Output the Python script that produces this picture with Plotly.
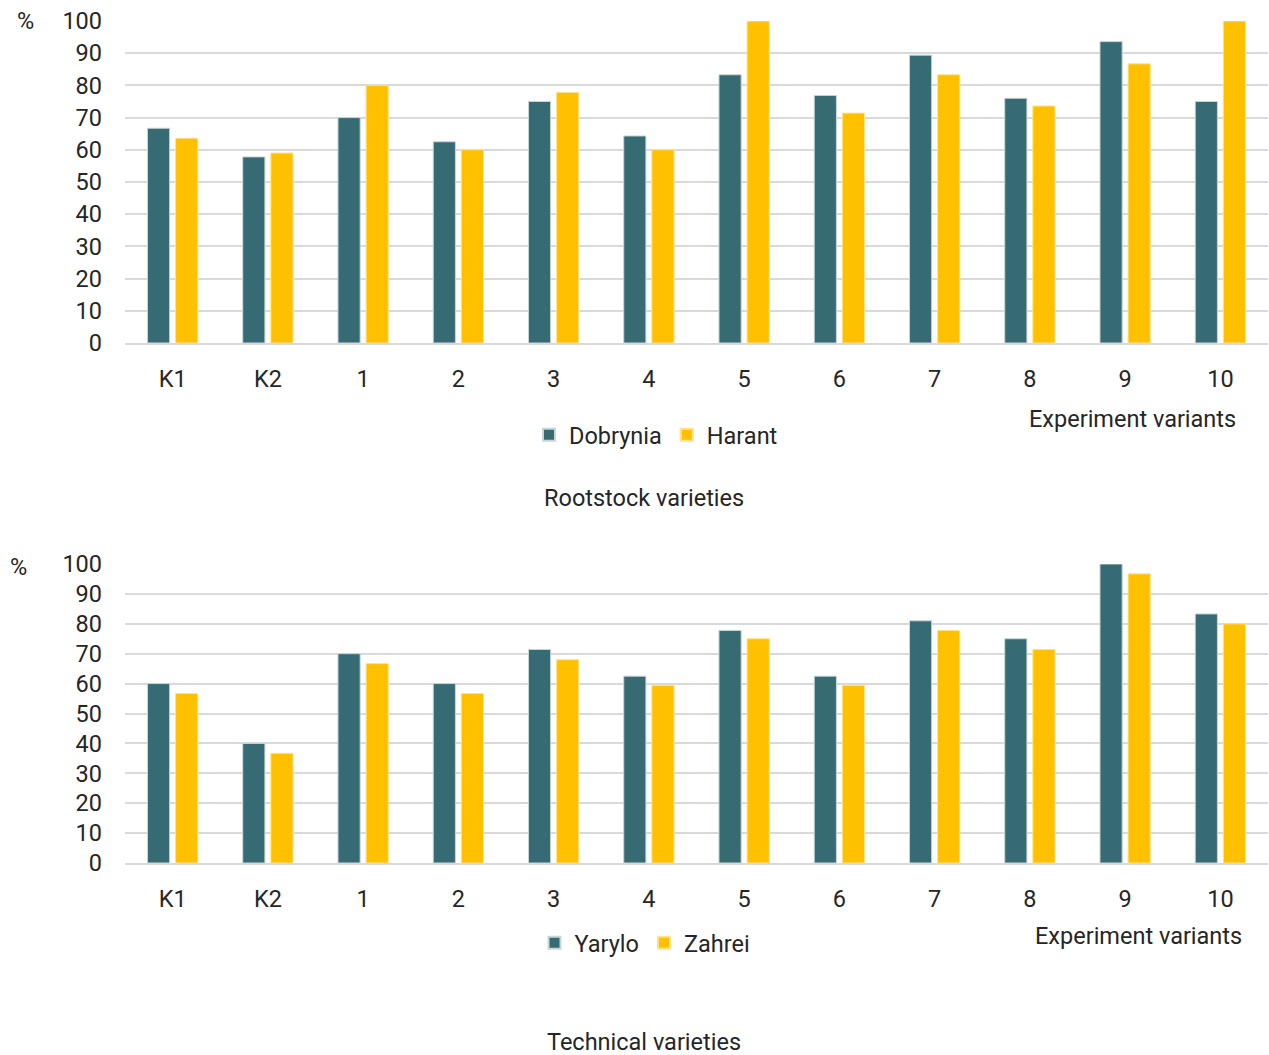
import plotly.graph_objects as go

categories = ["K1", "K2", "1", "2", "3", "4", "5", "6", "7", "8", "9", "10"]
dobrynia = [66.7, 57.8, 70.0, 62.5, 75.0, 64.3, 83.3, 76.9, 89.4, 76.0, 93.6, 75.0]
harant = [63.6, 59.0, 80.0, 60.0, 77.8, 60.0, 100.0, 71.4, 83.3, 73.6, 86.7, 100.0]
yarylo = [60.0, 40.0, 70.0, 60.0, 71.4, 62.5, 77.8, 62.5, 81.0, 75.0, 100.0, 83.3]
zahrei = [56.7, 36.7, 66.7, 56.7, 68.0, 59.4, 75.0, 59.4, 77.8, 71.4, 96.7, 80.0]
y_ticks = [0, 10, 20, 30, 40, 50, 60, 70, 80, 90, 100]

TEAL = "#376B74"
GOLD = "#FFC000"
FONT = "Roboto, Noto Sans, sans-serif"
TXT = "#262626"
FS = 23.5

W, H = 1269, 1055

fig = go.Figure()
fig.add_trace(go.Bar(x=categories, y=dobrynia, name="Dobrynia", marker=dict(color=TEAL, line=dict(color="#C9D6D8", width=1)),
                     xaxis="x", yaxis="y", legend="legend"))
fig.add_trace(go.Bar(x=categories, y=harant, name="Harant", marker=dict(color=GOLD, line=dict(color="#FFE28A", width=1)),
                     xaxis="x", yaxis="y", legend="legend"))
fig.add_trace(go.Bar(x=categories, y=yarylo, name="Yarylo", marker=dict(color=TEAL, line=dict(color="#C9D6D8", width=1)),
                     xaxis="x2", yaxis="y2", legend="legend2"))
fig.add_trace(go.Bar(x=categories, y=zahrei, name="Zahrei", marker=dict(color=GOLD, line=dict(color="#FFE28A", width=1)),
                     xaxis="x2", yaxis="y2", legend="legend2"))

xd = [125 / W, 1268 / W]
top_dom = [1 - 343 / H, 1 - 21 / H]
bot_dom = [1 - 863 / H, 1 - 564 / H]

yax = dict(range=[0, 100], tickvals=y_ticks, showgrid=True, gridcolor="#D9D9D9", gridwidth=1.5,
           zeroline=False, showline=False, tickfont=dict(family=FONT, size=FS, color=TXT),
           ticklabelstandoff=22, fixedrange=True, automargin=False)
xax = dict(type="category", showline=True, linecolor="#D9D9D9", linewidth=1.5, showgrid=False,
           tickfont=dict(family=FONT, size=FS, color=TXT), ticklabelstandoff=14, ticks="", automargin=False)

fig.update_layout(
    width=W, height=H, autosize=False,
    margin=dict(l=0, r=0, t=0, b=0, autoexpand=False),
    paper_bgcolor="white", plot_bgcolor="white",
    barmode="group", bargap=0.41, bargroupgap=0.21,
    xaxis=dict(domain=xd, anchor="y", **xax),
    yaxis=dict(domain=top_dom, anchor="x", **yax),
    xaxis2=dict(domain=xd, anchor="y2", **xax),
    yaxis2=dict(domain=bot_dom, anchor="x2", **yax),
    font=dict(family=FONT, color=TXT),
    legend=dict(orientation="h", x=656 / W, xanchor="center", y=1 - 435 / H, yanchor="middle",
                font=dict(family=FONT, size=FS, color=TXT), itemsizing="constant", traceorder="normal",
                itemwidth=30, bgcolor="rgba(0,0,0,0)"),
    legend2=dict(orientation="h", x=645 / W, xanchor="center", y=1 - 943 / H, yanchor="middle",
                 font=dict(family=FONT, size=FS, color=TXT), itemsizing="constant", traceorder="normal",
                 itemwidth=30, bgcolor="rgba(0,0,0,0)"),
    annotations=[
        dict(text="%", x=26 / W, y=1 - 21 / H, xref="paper", yref="paper", showarrow=False,
             xanchor="center", yanchor="middle", font=dict(family=FONT, size=FS, color=TXT)),
        dict(text="%", x=18 / W, y=1 - 567 / H, xref="paper", yref="paper", showarrow=False,
             xanchor="center", yanchor="middle", font=dict(family=FONT, size=FS, color=TXT)),
        dict(text="Experiment variants", x=1132 / W, y=1 - 419 / H, xref="paper", yref="paper", showarrow=False,
             xanchor="center", yanchor="middle", font=dict(family=FONT, size=FS, color=TXT)),
        dict(text="Experiment variants", x=1138 / W, y=1 - 936 / H, xref="paper", yref="paper", showarrow=False,
             xanchor="center", yanchor="middle", font=dict(family=FONT, size=FS, color=TXT)),
        dict(text="Rootstock varieties", x=644 / W, y=1 - 498 / H, xref="paper", yref="paper", showarrow=False,
             xanchor="center", yanchor="middle", font=dict(family=FONT, size=FS, color=TXT)),
        dict(text="Technical varieties", x=644 / W, y=1 - 1042 / H, xref="paper", yref="paper", showarrow=False,
             xanchor="center", yanchor="middle", font=dict(family=FONT, size=FS, color=TXT)),
    ],
)

fig.write_html("out.html")
